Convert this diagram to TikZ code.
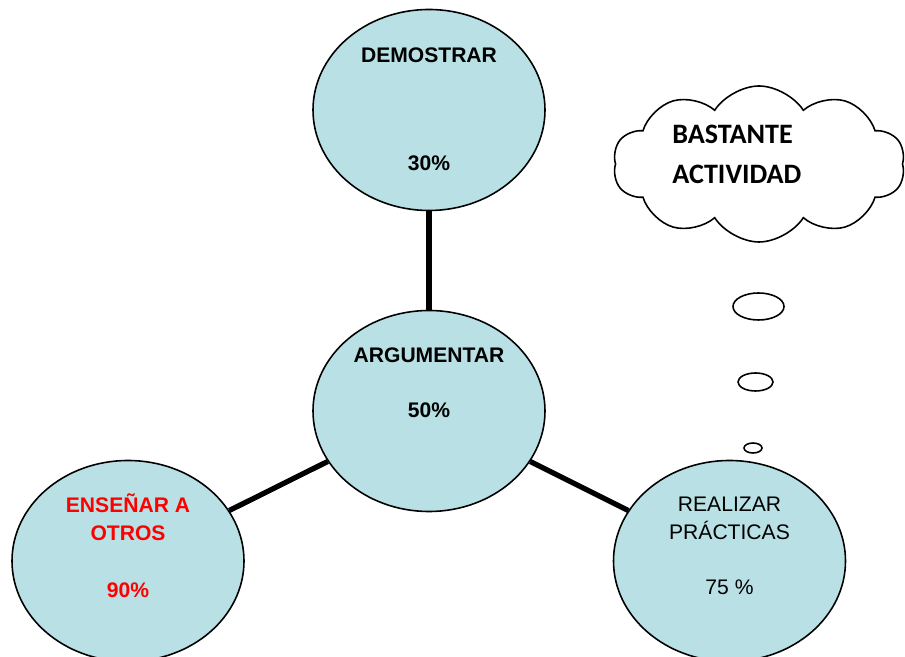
\documentclass[tikz,border=0pt]{standalone}
\usepackage{fontspec}
\setmainfont{Liberation Sans}
\newfontfamily\cloudfont{Carlito}
\usepackage{xcolor}
\usetikzlibrary{calc,shapes.geometric,shapes.symbols}

\definecolor{bubblefill}{RGB}{185,224,228}
\definecolor{redtext}{RGB}{255,0,0}

\tikzset{
  bubble/.style={ellipse,draw,line width=0.9pt,fill=bubblefill,inner sep=0pt,
    minimum width=4.64cm,minimum height=4.02cm},
  puff/.style={ellipse,draw,line width=0.9pt,inner sep=0pt},
  lbl/.style={anchor=base,inner sep=0pt,font=\fontsize{12}{14}\selectfont\bfseries},
  plain/.style={anchor=base,inner sep=0pt,font=\fontsize{12}{14}\selectfont},
  link/.style={line width=3pt}
}

\begin{document}
\begin{tikzpicture}
	\clip (0,0) rectangle (18.1,13.14);
	\node[bubble] (dem) at (8.58,10.94) {};
	\node[bubble] (arg) at (8.58,4.92) {};
	\node[bubble] (ens) at (2.56,1.92) {};
	\node[bubble] (rea) at (14.59,1.92) {};
	\draw[link] (dem) -- (arg);
	\draw[link] (arg) -- (ens);
	\draw[link] (arg) -- (rea);
	% texts
	\node[lbl] (demA) at ($(dem)+(0,0.95)$) {DEMOSTRAR};
	\node[lbl] (demB) at ($(dem)+(0,-1.21)$) {30\%};
	\node[lbl] (argA) at ($(arg)+(0,0.97)$) {ARGUMENTAR};
	\node[lbl] (argB) at ($(arg)+(0,-0.13)$) {50\%};
	\node[lbl,text=redtext] (ensA) at ($(ens)+(0,0.97)$) {ENSEÑAR A};
	\node[lbl,text=redtext] (ensB) at ($(ens)+(0,0.41)$) {OTROS};
	\node[lbl,text=redtext] (ensC) at ($(ens)+(0,-0.73)$) {90\%};
	\node[plain] (reaA) at ($(rea)+(0,0.99)$) {REALIZAR};
	\node[plain] (reaB) at ($(rea)+(0,0.43)$) {PRÁCTICAS};
	\node[plain] (reaC) at ($(rea)+(0,-0.67)$) {75 \%};
	% thought cloud
	\node[cloud,draw,line width=0.9pt,cloud puffs=10,cloud puff arc=115,
	  minimum width=5.84cm,minimum height=3.12cm] (cloud) at (15.18,9.86) {};
	\node[anchor=base west,inner sep=0pt,font=\cloudfont\fontsize{16}{19}\selectfont\bfseries]
	  (cloudA) at (13.44,10.26) {BASTANTE};
	\node[anchor=base west,inner sep=0pt,font=\cloudfont\fontsize{16}{19}\selectfont\bfseries]
	  (cloudB) at (13.44,9.46) {ACTIVIDAD};
	\node[puff,minimum width=1.02cm,minimum height=0.54cm] (p1) at (15.17,7.01) {};
	\node[puff,minimum width=0.70cm,minimum height=0.36cm] (p2) at (15.11,5.50) {};
	\node[puff,minimum width=0.36cm,minimum height=0.20cm] (p3) at (15.06,4.18) {};
\end{tikzpicture}
\end{document}
